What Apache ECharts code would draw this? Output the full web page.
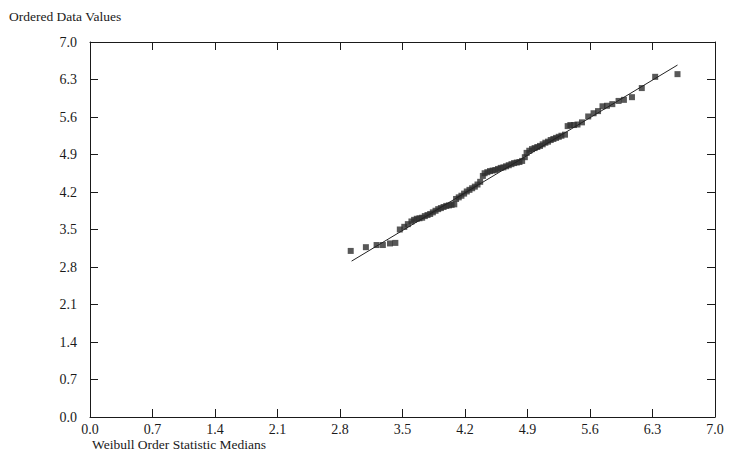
<!DOCTYPE html>
<html>
<head>
<meta charset="utf-8">
<script src="https://cdn.jsdelivr.net/npm/echarts@6/dist/echarts.min.js"></script>
<style>html,body{margin:0;padding:0;background:#fff}#c{width:736px;height:469px}</style>
</head>
<body>
<div id="c"></div>
<script>
var xTicks = [0.0, 0.7, 1.4, 2.1, 2.8, 3.5, 4.2, 4.9, 5.6, 6.3, 7.0];
var yTicks = [0.0, 0.7, 1.4, 2.1, 2.8, 3.5, 4.2, 4.9, 5.6, 6.3, 7.0];
var medians = [2.92,3.09,3.21,3.28,3.36,3.42,
  3.47,3.52,3.56,3.60,3.63,3.66,3.69,3.72,3.75,3.78,3.81,3.84,3.87,3.90,3.93,3.96,3.99,4.02,4.05,4.08,
  4.10,4.13,4.16,4.19,4.22,4.25,4.28,4.31,4.34,4.37,4.40,4.42,4.45,4.48,4.51,4.54,4.57,4.60,4.63,4.66,
  4.69,4.72,4.75,4.78,4.81,4.84,4.87,4.89,4.92,4.95,4.98,5.01,5.04,5.07,5.10,5.13,5.16,5.19,5.22,5.25,
  5.28,5.32,5.35,5.38,5.42,5.46,5.51,5.58,5.64,5.69,5.74,5.79,5.85,5.92,5.98,6.07,6.18,6.33,6.58];
var ordered = [3.10,3.17,3.21,3.21,3.24,3.25,
  3.50,3.55,3.60,3.65,3.68,3.70,3.71,3.72,3.75,3.77,3.79,3.82,3.85,3.88,3.90,3.92,3.94,3.95,3.96,3.97,
  4.07,4.10,4.13,4.17,4.21,4.24,4.27,4.30,4.34,4.39,4.50,4.55,4.57,4.59,4.60,4.61,4.63,4.65,4.66,4.68,
  4.70,4.72,4.74,4.75,4.76,4.78,4.85,4.93,4.97,5.00,5.02,5.04,5.06,5.09,5.12,5.14,5.17,5.19,5.21,5.23,
  5.25,5.27,5.43,5.45,5.45,5.46,5.50,5.61,5.67,5.71,5.80,5.81,5.84,5.90,5.92,5.97,6.14,6.35,6.40];
var fitX = [2.93, 6.58];
var fitY = [2.91, 6.57];

var pts = medians.map(function(x, i){ return [x, ordered[i]]; });
var fit = fitX.map(function(x, i){ return [x, fitY[i]]; });

var font = 'Liberation Serif';
var txt = '#1a1a1a';
var axisCommon = {
  min: 0, max: 7, interval: 0.7,
  axisLine: {show: true, onZero: false, lineStyle: {color: '#1a1a1a', width: 1}},
  axisTick: {show: true, inside: true, length: 8, lineStyle: {color: '#1a1a1a'}},
  splitLine: {show: false}
};
function fmt(v){ return v.toFixed(1); }

var chart = echarts.init(document.getElementById('c'), null, {renderer: 'svg'});
chart.setOption({
  animation: false,
  backgroundColor: '#fff',
  title: [
    {text: 'Ordered Data Values', left: 4, top: 4, textStyle: {fontFamily: font, fontSize: 13.5, fontWeight: 'normal', color: txt}},
    {text: 'Weibull Order Statistic Medians', left: 87, top: 432, textStyle: {fontFamily: font, fontSize: 13.5, fontWeight: 'normal', color: txt}}
  ],
  grid: {left: 90, top: 42, right: 21, bottom: 52, containLabel: false},
  xAxis: [
    Object.assign({type: 'value', position: 'bottom',
      axisLabel: {show: true, margin: 5, fontFamily: font, fontSize: 14, color: txt, formatter: fmt, showMinLabel: true, showMaxLabel: true}}, axisCommon),
    Object.assign({type: 'value', position: 'top', axisLabel: {show: false}}, axisCommon)
  ],
  yAxis: [
    Object.assign({type: 'value', position: 'left',
      axisLabel: {show: true, margin: 13, fontFamily: font, fontSize: 14, color: txt, formatter: fmt, showMinLabel: true, showMaxLabel: true}}, axisCommon),
    Object.assign({type: 'value', position: 'right', axisLabel: {show: false}}, axisCommon)
  ],
  series: [
    {type: 'line', data: fit, showSymbol: false, symbol: 'none', lineStyle: {color: '#222', width: 1}, silent: true},
    {type: 'scatter', data: pts, symbol: 'rect', symbolSize: 6, itemStyle: {color: '#2e2e2e'}}
  ]
});
</script>
</body>
</html>
